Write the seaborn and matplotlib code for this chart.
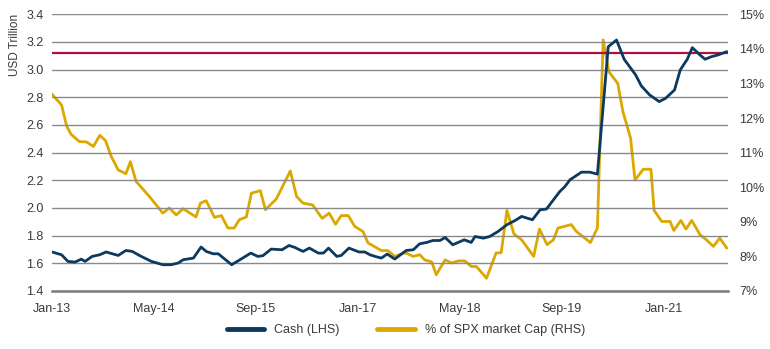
import numpy as np
import pandas as pd
import matplotlib
matplotlib.use("Agg")
import matplotlib.pyplot as plt
import matplotlib.dates as mdates
from matplotlib.ticker import FuncFormatter
import seaborn as sns

# ---- data (x = months since Jan-2013) ----
cash_month = [0, 1.5, 2.5, 3.6, 4.6, 5.2, 6.3, 7.5, 8.5, 10.4, 11.6, 12.6, 13.8, 15.6,
              17.4, 18.7, 19.8, 20.6, 22.2, 23.4, 24.2, 25.3, 26.1, 28.2, 29.5, 31.2,
              32.3, 33.1, 34.4, 36.1, 37.2, 38.1, 39.4, 40.4, 41.8, 42.6, 43.4, 44.7,
              45.4, 46.6, 48.2, 49.1, 49.9, 50.7, 51.7, 52.6, 53.8, 55.6, 56.7, 57.7,
              58.8, 59.8, 60.9, 61.7, 62.9, 64.7, 65.8, 66.4, 67.7, 68.7, 70.0, 71.4,
              72.7, 73.7, 75.4, 76.6, 77.6, 78.7, 79.7, 80.5, 81.3, 83.1, 84.4, 85.6,
              87.3, 88.6, 89.8, 91.6, 92.5, 93.8, 95.3, 96.3, 97.7, 98.6, 99.7, 100.5,
              101.7, 102.5, 103.5, 104.5, 105.9]
cash_usd_tn = [1.682, 1.662, 1.614, 1.609, 1.630, 1.614, 1.650, 1.662, 1.682, 1.657, 1.693,
               1.686, 1.655, 1.614, 1.590, 1.590, 1.602, 1.626, 1.638, 1.718, 1.686, 1.669,
               1.669, 1.590, 1.626, 1.674, 1.650, 1.655, 1.703, 1.698, 1.729, 1.715, 1.686,
               1.710, 1.674, 1.674, 1.710, 1.650, 1.657, 1.710, 1.682, 1.682, 1.662, 1.650,
               1.638, 1.667, 1.631, 1.693, 1.698, 1.741, 1.751, 1.765, 1.765, 1.787, 1.734,
               1.770, 1.751, 1.794, 1.782, 1.794, 1.830, 1.879, 1.910, 1.939, 1.915, 1.987,
               1.992, 2.059, 2.119, 2.155, 2.204, 2.259, 2.259, 2.245, 3.166, 3.214, 3.075,
               2.962, 2.882, 2.817, 2.769, 2.793, 2.853, 2.998, 3.075, 3.159, 3.106, 3.075,
               3.094, 3.106, 3.130]

spx_month = [0, 1.5, 2.3, 3.0, 4.3, 5.4, 6.5, 7.5, 8.4, 9.3, 10.4, 11.6, 12.3, 13.2,
             15.3, 17.4, 18.4, 19.5, 20.6, 22.6, 23.3, 24.2, 25.5, 26.6, 27.6, 28.6,
             29.4, 30.5, 31.3, 32.7, 33.5, 35.2, 37.4, 38.4, 39.4, 40.9, 42.4, 43.5,
             44.5, 45.4, 46.5, 47.5, 48.8, 49.6, 51.7, 52.7, 53.8, 55.4, 56.7, 57.7,
             58.5, 59.6, 60.3, 61.7, 62.7, 63.8, 64.8, 65.8, 66.6, 68.2, 69.7, 70.5,
             71.4, 72.5, 73.7, 75.6, 76.5, 77.7, 78.7, 79.4, 81.5, 82.3, 84.5, 85.6,
             86.5, 87.4, 88.8, 89.6, 90.8, 91.5, 92.8, 94.0, 94.5, 95.7, 97.0, 97.6,
             98.7, 99.5, 100.4, 101.7, 102.7, 103.8, 104.8, 105.9]
spx_pct = [12.69, 12.38, 11.77, 11.53, 11.32, 11.31, 11.18, 11.50, 11.35, 10.89, 10.50,
           10.39, 10.74, 10.17, 9.73, 9.25, 9.40, 9.20, 9.38, 9.14, 9.54, 9.61, 9.13,
           9.18, 8.82, 8.82, 9.06, 9.14, 9.83, 9.90, 9.35, 9.66, 10.47, 9.73, 9.54,
           9.49, 9.10, 9.25, 8.93, 9.18, 9.18, 8.87, 8.72, 8.39, 8.17, 8.17, 8.00,
           8.11, 8.00, 8.05, 7.90, 7.84, 7.47, 7.90, 7.81, 7.87, 7.87, 7.71, 7.71,
           7.37, 8.10, 8.11, 9.33, 8.65, 8.48, 8.00, 8.79, 8.34, 8.48, 8.82, 8.92,
           8.72, 8.40, 8.82, 14.26, 13.34, 13.00, 12.19, 11.42, 10.21, 10.52, 10.52,
           9.33, 9.01, 9.01, 8.75, 9.04, 8.79, 9.04, 8.63, 8.48, 8.29, 8.53, 8.24]

reference_level = 3.12
x_tick_labels = ["Jan-13", "May-14", "Sep-15", "Jan-17", "May-18", "Sep-19", "Jan-21"]
left_ticks = [1.4, 1.6, 1.8, 2.0, 2.2, 2.4, 2.6, 2.8, 3.0, 3.2, 3.4]
right_ticks = [7, 8, 9, 10, 11, 12, 13, 14, 15]

# ---- styling ----
sns.set_style("white")
plt.rcParams["font.family"] = ["Liberation Sans", "DejaVu Sans"]
TXT = "#3a3a3a"
GRID = "#8a8a8a"
BLUE = "#0c3a5f"
GOLD = "#dca800"
RED = "#b0123f"

start = pd.Timestamp("2013-01-01")
def to_dates(months):
    return start + pd.to_timedelta(np.asarray(months) * 30.4375, unit="D")

cash_df = pd.DataFrame({"date": to_dates(cash_month), "val": cash_usd_tn})
spx_df = pd.DataFrame({"date": to_dates(spx_month), "val": spx_pct})

fig = plt.figure(figsize=(7.7, 3.49), dpi=100)
ax = fig.add_axes([0.0675, 0.1662, 0.878, 0.7928])
ax2 = ax.twinx()

ax.set_ylim(1.4, 3.4)
ax2.set_ylim(7, 15)
xmin = start
xmax = start + pd.Timedelta(days=106.1 * 30.4375)
ax.set_xlim(xmin, xmax)

ax.set_yticks(left_ticks)
ax.yaxis.grid(True, color=GRID, linewidth=1.0)
ax.set_axisbelow(True)
ax2.set_yticks(right_ticks)
ax2.yaxis.set_major_formatter(FuncFormatter(lambda v, p: f"{int(v)}%"))

ax.axhline(reference_level, color=RED, linewidth=1.6, zorder=2)

sns.lineplot(data=spx_df, x="date", y="val", ax=ax2, color=GOLD, linewidth=2.0,
             label="% of SPX market Cap (RHS)", legend=False)
ax2.set_zorder(1)
ax.set_zorder(2)
ax.patch.set_visible(False)
sns.lineplot(data=cash_df, x="date", y="val", ax=ax, color=BLUE, linewidth=2.0,
             label="Cash (LHS)", legend=False, zorder=3)

tick_dates = pd.to_datetime(["2013-01-01", "2014-05-01", "2015-09-01", "2017-01-01",
                             "2018-05-01", "2019-09-01", "2021-01-01"])
ax.set_xticks(tick_dates)
ax.set_xticklabels(x_tick_labels)

for a in (ax, ax2):
    for s in ("top", "left", "right"):
        a.spines[s].set_visible(False)
    a.spines["bottom"].set_visible(False)
    a.set_xlabel("")
    a.set_ylabel("")

ax.spines["bottom"].set_visible(True)
ax.spines["bottom"].set_color("#7a7a7a")
ax.spines["bottom"].set_linewidth(1.8)
ax.tick_params(axis="x", direction="out", length=5, width=1.2, color="#7a7a7a",
               labelsize=9, labelcolor=TXT, pad=4)
ax.tick_params(axis="y", length=0, labelsize=9, labelcolor=TXT, pad=6)
ax2.tick_params(axis="y", length=0, labelsize=9, labelcolor=TXT, pad=8)

ax.set_ylabel("USD Trillion", fontsize=8.5, color=TXT, loc="top", labelpad=4)

h1, l1 = ax.get_legend_handles_labels()
h2, l2 = ax2.get_legend_handles_labels()
leg = fig.legend(h1 + h2, l1 + l2, loc="center", bbox_to_anchor=(0.527, 0.054),
                 ncol=2, frameon=False, fontsize=9, handlelength=3.0,
                 columnspacing=3.0, handletextpad=0.8)
for line in leg.get_lines():
    line.set_linewidth(3.5)
for t in leg.get_texts():
    t.set_color(TXT)

fig.savefig("out.png", dpi=100)
